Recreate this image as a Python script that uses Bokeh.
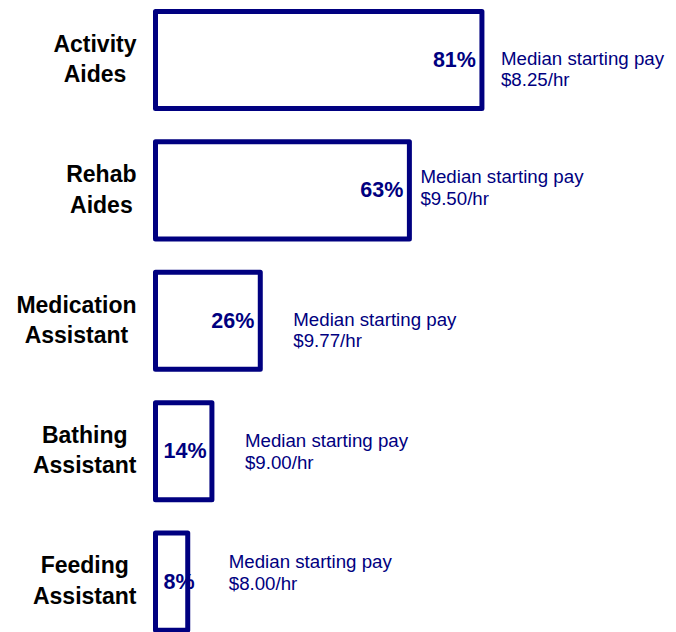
from bokeh.plotting import figure
from bokeh.models import ColumnDataSource, Range1d
from bokeh.core.properties import value
from bokeh.embed import file_html
from bokeh.resources import INLINE

# ---- data ----
categories = ["Activity\nAides", "Rehab\nAides", "Medication\nAssistant",
              "Bathing\nAssistant", "Feeding\nAssistant"]
shares = [81, 63, 26, 14, 8]
pay = ["$8.25/hr", "$9.50/hr", "$9.77/hr", "$9.00/hr", "$8.00/hr"]

# ---- layout (screen-pixel nudges for the pay notes) ----
pay_dx = [19, 11, 33, 33, 41]
pay_dy = [-12, -24, -12, -21, -30.5]

NAVY = "#000080"
FONT = "Liberation Sans"
PX = 4.03          # pixels per percentage point
X0 = 155           # pixel position of 0 %
Y0 = 59.5          # pixel centre of first bar
STEP = 130.4       # pixels between bars

idx = list(range(len(categories)))
src = ColumnDataSource(dict(
    y=idx,
    share=shares,
    cat=categories,
    pay=[f"Median starting pay\n{p}" for p in pay],
    pdx=pay_dx,
    pdy=pay_dy,
))

W, H = 668, 632
p = figure(width=W, height=H, output_backend="svg", toolbar_location=None,
           x_range=Range1d(-X0 / PX, (W - X0) / PX),
           y_range=Range1d((H - Y0) / STEP, -Y0 / STEP),
           min_border=0, min_border_left=0, min_border_right=0,
           min_border_top=0, min_border_bottom=0)
p.axis.visible = False
p.grid.visible = False
p.outline_line_color = None
p.background_fill_color = "white"
p.border_fill_color = "white"

p.hbar(y="y", left=0, right="share", height=0.745, source=src,
       fill_color="white", line_color=NAVY, line_width=5, line_join="round")

# category labels
p.text(x=0, y="y", text="cat", source=src, x_offset=-19, y_offset=-1,
       anchor="center_right", text_align="center", text_baseline="middle",
       text_font=value(FONT), text_font_style="bold", text_font_size="23px",
       text_color="black", text_line_height=1.17)

# percent labels: inside the bar end, or from the bar start if too narrow
big = [s >= 20 for s in shares]
src_r = ColumnDataSource(dict(x=[s for s, b in zip(shares, big) if b],
                              y=[i for i, b in zip(idx, big) if b],
                              t=[f"{s}%" for s, b in zip(shares, big) if b]))
src_l = ColumnDataSource(dict(x=[0 for b in big if not b],
                              y=[i for i, b in zip(idx, big) if not b],
                              t=[f"{s}%" for s, b in zip(shares, big) if not b]))
p.text(x="x", y="y", text="t", source=src_r, x_offset=-6,
       text_align="right", text_baseline="middle",
       text_font=value(FONT), text_font_style="bold", text_font_size="21.5px",
       text_color=NAVY)
p.text(x="x", y="y", text="t", source=src_l, x_offset=8,
       text_align="left", text_baseline="middle",
       text_font=value(FONT), text_font_style="bold", text_font_size="21.5px",
       text_color=NAVY)

# pay notes
p.text(x="share", y="y", text="pay", source=src, x_offset="pdx", y_offset="pdy",
       text_align="left", text_baseline="top",
       text_font=value(FONT), text_font_size="18.7px", text_color=NAVY,
       text_line_height=1.02)

open("out.html", "w").write(file_html(p, INLINE))
